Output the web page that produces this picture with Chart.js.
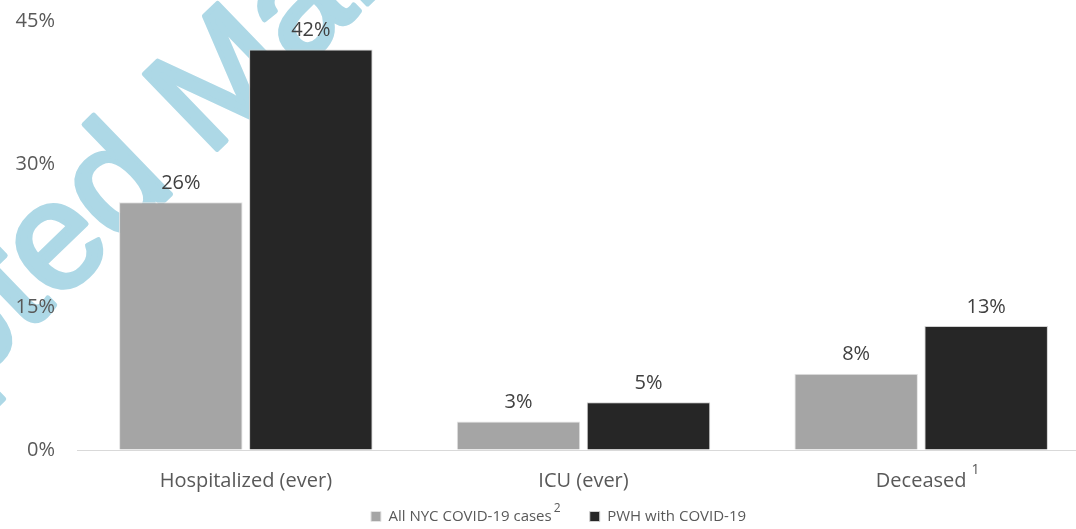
<!DOCTYPE html>
<html>
<head>
<meta charset="utf-8">
<script src="https://cdn.jsdelivr.net/npm/chart.js@4/dist/chart.umd.min.js"></script>
<style>
	html, body { margin: 0; padding: 0; background: #fff; overflow: hidden; }
	#wrap { width: 1117px; height: 529px; }
</style>
</head>
<body>
<div id="wrap"><canvas id="chart"></canvas></div>
<script>
const categories = ["Hospitalized (ever)", "ICU (ever)", "Deceased"];
const seriesNames = ["All NYC COVID-19 cases", "PWH with COVID-19"];
const allNyc = [26, 3, 8];
const pwh = [42, 5, 13];
const yTicks = [0, 15, 30, 45];
// superscript notes: category index -> mark, series index -> mark
const catNotes = { 2: "1" };
const seriesNotes = { 0: "2" };

const FONT = "'Open Sans', sans-serif";
const LEGEND_SIZE = 15;

let watermark = {
	id: "watermark",
	beforeDraw(chart) {
		let ctx = chart.ctx;
		ctx.save();
		ctx.translate(208, 158);
		ctx.rotate(-44 * Math.PI / 180);
		ctx.font = "152px 'Liberation Sans', sans-serif";
		ctx.fillStyle = "#add8e6";
		ctx.strokeStyle = "#add8e6";
		ctx.lineWidth = 5;
		ctx.lineJoin = "round";
		ctx.textBaseline = "alphabetic";
		ctx.textAlign = "left";
		ctx.fillText("Manuscript", 0, 0);
		ctx.strokeText("Manuscript", 0, 0);
		ctx.textAlign = "right";
		ctx.fillText("Accepted ", 0, 0);
		ctx.strokeText("Accepted ", 0, 0);
		ctx.restore();
	}
};

let valueLabels = {
	id: "valueLabels",
	afterDatasetsDraw(chart) {
		let ctx = chart.ctx;
		ctx.save();
		ctx.font = "20px " + FONT;
		ctx.fillStyle = "#404040";
		ctx.textAlign = "center";
		ctx.textBaseline = "middle";
		chart.data.datasets.forEach((ds, i) => {
			chart.getDatasetMeta(i).data.forEach((bar, j) => {
				ctx.fillText(ds.data[j] + "%", bar.x, bar.y - 19);
			});
		});
		ctx.restore();
	}
};

let notes = {
	id: "notes",
	afterDraw(chart) {
		let ctx = chart.ctx;
		let x = chart.scales.x;
		ctx.save();
		ctx.fillStyle = "#595959";
		ctx.textBaseline = "middle";
		ctx.textAlign = "left";
		// category footnotes
		Object.keys(catNotes).forEach(k => {
			let cx = x.getPixelForValue(+k);
			ctx.font = "20px " + FONT;
			let w = ctx.measureText(categories[k]).width;
			ctx.font = "14px " + FONT;
			ctx.fillText(catNotes[k], cx + w / 2 + 5, x.top + 20);
		});
		// legend footnotes
		let boxes = chart.legend.legendHitBoxes;
		Object.keys(seriesNotes).forEach(k => {
			let b = boxes[k];
			ctx.font = LEGEND_SIZE + "px " + FONT;
			let w = ctx.measureText(seriesNames[k]).width;
			let tx = b.left + 10 + LEGEND_SIZE / 2 + w;
			ctx.font = "12px " + FONT;
			ctx.fillText(seriesNotes[k], tx + 2, b.top + b.height / 2 - 8);
		});
		ctx.restore();
	}
};

new Chart(document.getElementById("chart"), {
	type: "bar",
	data: {
		labels: categories,
		datasets: [
			{ label: seriesNames[0], data: allNyc, backgroundColor: "#a5a5a5", borderColor: "#e4e4e4", borderWidth: 1 },
			{ label: seriesNames[1], data: pwh, backgroundColor: "#262626", borderColor: "#d0d0d0", borderWidth: 1 }
		]
	},
	options: {
		responsive: true,
		maintainAspectRatio: false,
		animation: false,
		devicePixelRatio: 1,
		categoryPercentage: 0.77,
		barPercentage: 0.95,
		layout: { padding: { top: 21, right: 0, bottom: -5, left: 0 } },
		plugins: {
			legend: {
				position: "bottom",
				labels: {
					font: { size: LEGEND_SIZE, family: FONT },
					color: "#595959",
					boxWidth: 10,
					boxHeight: 10,
					padding: 3,
					generateLabels(chart) {
						let items = Chart.defaults.plugins.legend.labels.generateLabels(chart);
						// leave room for the footnote mark and the wider gap
						items.forEach((it, i) => { if (i === 0) it.text = it.text + "         "; });
						return items;
					}
				}
			},
			tooltip: { enabled: false }
		},
		scales: {
			x: {
				afterFit(scale) {
					scale.height = 56;
				},
				grid: { display: false, drawTicks: false },
				border: { display: true, color: "#d9d9d9", width: 1 },
				ticks: { font: { size: 20, family: FONT }, color: "#595959", padding: 19 }
			},
			y: {
				min: 0,
				max: 45,
				afterBuildTicks(scale) {
					scale.ticks = yTicks.map(v => ({ value: v }));
				},
				afterFit(scale) {
					scale.width = 77;
				},
				grid: { display: true, drawOnChartArea: false, drawTicks: true, tickLength: 22, color: "rgba(0,0,0,0)" },
				border: { display: false },
				ticks: {
					font: { size: 20, family: FONT },
					color: "#595959",
					padding: 0,
					callback: v => v + "%"
				}
			},
			// empty spacer on the right, the plot runs past the picture edge
			spacer: {
				type: "linear",
				position: "right",
				afterFit(scale) {
					scale.width = 27;
				},
				grid: { display: false, drawTicks: false },
				border: { display: false },
				ticks: { display: false }
			}
		}
	},
	plugins: [watermark, valueLabels, notes]
});
</script>
</body>
</html>
